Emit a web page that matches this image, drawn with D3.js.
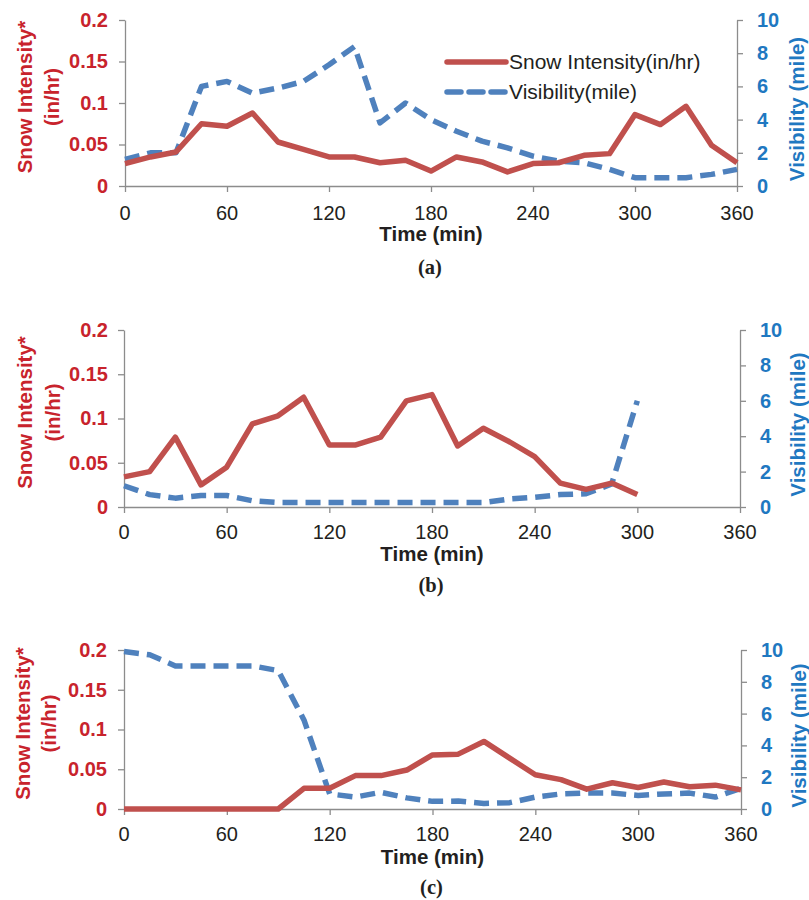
<!DOCTYPE html>
<html>
<head>
<meta charset="utf-8">
<script src="https://cdn.jsdelivr.net/npm/d3@7/dist/d3.min.js"></script>
<style>
  body { margin: 0; background: #fff; }
  svg { display: block; font-family: "Liberation Sans", Arial, sans-serif; }
</style>
</head>
<body>
<svg width="809" height="900"></svg>
<script>
// time in minutes, every 15 min
var times = d3.range(0, 361, 15);
var timesB = d3.range(0, 301, 15);
var xTicks = [0, 60, 120, 180, 240, 300, 360];
var snowTicks = [0, 0.05, 0.1, 0.15, 0.2];
var snowTickLabels = ["0", "0.05", "0.1", "0.15", "0.2"];
var visTicks = [0, 2, 4, 6, 8, 10];

var snowA = [0.027, 0.035, 0.041, 0.075, 0.072, 0.088, 0.053, 0.044, 0.035, 0.035, 0.028, 0.031, 0.018,
             0.035, 0.029, 0.017, 0.027, 0.028, 0.037, 0.039, 0.086, 0.074, 0.096, 0.049, 0.028];
var visA = [1.6, 2.0, 2.0, 6.0, 6.3, 5.6, 5.9, 6.3, 7.3, 8.4, 3.8, 5.0, 4.0,
            3.3, 2.7, 2.3, 1.8, 1.5, 1.4, 1.0, 0.5, 0.5, 0.5, 0.7, 1.0];

var snowB = [0.034, 0.040, 0.079, 0.025, 0.045, 0.094, 0.103, 0.124, 0.070, 0.070, 0.079, 0.120, 0.127,
             0.069, 0.089, 0.074, 0.057, 0.027, 0.020, 0.027, 0.014];
var visB = [1.2, 0.7, 0.5, 0.65, 0.65, 0.35, 0.25, 0.25, 0.25, 0.25, 0.25, 0.25, 0.25,
            0.25, 0.25, 0.45, 0.55, 0.7, 0.75, 1.3, 6.0];

var snowC = [0, 0, 0, 0, 0, 0, 0, 0.026, 0.026, 0.042, 0.042, 0.049, 0.068,
             0.069, 0.085, 0.064, 0.043, 0.037, 0.025, 0.033, 0.027, 0.034, 0.028, 0.030, 0.024];
var visC = [9.9, 9.7, 9.0, 9.0, 9.0, 9.0, 8.7, 5.6, 0.95, 0.75, 1.05, 0.7, 0.48,
            0.5, 0.35, 0.4, 0.75, 0.95, 1.0, 1.0, 0.85, 0.95, 1.0, 0.75, 1.3];

var legendLabels = ["Snow Intensity(in/hr)", "Visibility(mile)"];

var RED = "#c0504d", BLUE = "#4f81bd", RED_TXT = "#c8232c", BLUE_TXT = "#1f78c1", AXIS = "#8c8c8c";

var svg = d3.select("svg");

var panels = [
  {t: times, snow: snowA, vis: visA, tag: "(a)", top: 20, bottom: 186, left: 125, right: 737,
   tickY: 220, titleY: 241, tagY: 274, l1: 25, l2: 52, rx: 797, rl: 757, lend: 108, legend: true},
  {t: timesB, snow: snowB, vis: visB, tag: "(b)", top: 330, bottom: 507, left: 124, right: 740,
   tickY: 539, titleY: 561, tagY: 592, l1: 25, l2: 53, rx: 798, rl: 760, lend: 108},
  {t: times, snow: snowC, vis: visC, tag: "(c)", top: 650, bottom: 809, left: 124, right: 741,
   tickY: 841, titleY: 864, tagY: 894, l1: 23, l2: 49, rx: 799, rl: 761, lend: 107}
];

var FS = 20, FT = 20.5;

panels.forEach(function(p) {
  var x = d3.scaleLinear().domain([0, 360]).range([p.left, p.right]);
  var yL = d3.scaleLinear().domain([0, 0.2]).range([p.bottom, p.top]);
  var yR = d3.scaleLinear().domain([0, 10]).range([p.bottom, p.top]);
  var g = svg.append("g");

  // axes
  var ax = g.append("g").attr("transform", "translate(0," + p.bottom + ")")
    .call(d3.axisBottom(x).tickValues(xTicks).tickSize(6).tickSizeOuter(0));
  ax.selectAll("text").remove();
  g.selectAll(".xl").data(xTicks).enter().append("text")
    .attr("x", function(d) { return x(d); }).attr("y", p.tickY)
    .attr("text-anchor", "middle").attr("font-size", FS).attr("fill", "#231f20")
    .text(function(d) { return d; });

  var al = g.append("g").attr("transform", "translate(" + p.left + ",0)")
    .call(d3.axisLeft(yL).tickValues(snowTicks).tickSize(6).tickSizeOuter(0)
      .tickFormat(function(d, i) { return snowTickLabels[i]; }));
  al.selectAll("text").attr("x", p.lend - p.left)
    .attr("font-size", FS).attr("font-weight", "bold").attr("fill", RED_TXT)
    .attr("font-family", "Liberation Sans, Arial, sans-serif");

  var ar = g.append("g").attr("transform", "translate(" + p.right + ",0)")
    .call(d3.axisRight(yR).tickValues(visTicks).tickSize(6).tickSizeOuter(0));
  ar.selectAll("text").attr("x", p.rl - p.right)
    .attr("font-size", FS).attr("font-weight", "bold").attr("fill", BLUE_TXT)
    .attr("font-family", "Liberation Sans, Arial, sans-serif");

  g.selectAll(".domain, .tick line").attr("stroke", AXIS).attr("stroke-width", 1.3);

  // axis titles
  var mid = (p.top + p.bottom) / 2 - 6;
  [["Snow Intensity*", p.l1], ["(in/hr)", p.l2]].forEach(function(t) {
    g.append("text").attr("transform", "translate(" + t[1] + "," + mid + ") rotate(-90)")
      .attr("dy", "0.35em").attr("text-anchor", "middle")
      .attr("font-size", FT).attr("font-weight", "bold").attr("fill", RED_TXT).text(t[0]);
  });
  g.append("text").attr("transform", "translate(" + p.rx + "," + ((p.top + p.bottom) / 2 + 6) + ") rotate(-90)")
    .attr("dy", "0.35em").attr("text-anchor", "middle")
    .attr("font-size", FT).attr("font-weight", "bold").attr("fill", BLUE_TXT).text("Visibility (mile)");

  g.append("text").attr("x", (p.left + p.right) / 2).attr("y", p.titleY)
    .attr("text-anchor", "middle").attr("font-size", FT).attr("font-weight", "bold")
    .attr("fill", "#231f20").text("Time (min)");
  g.append("text").attr("x", (p.left + p.right) / 2 - 1).attr("y", p.tagY)
    .attr("text-anchor", "middle").attr("font-size", 20.5).attr("font-weight", "bold")
    .attr("font-family", "Liberation Serif, Times New Roman, serif").attr("fill", "#231f20").text(p.tag);

  // lines
  var visLine = d3.line().x(function(d, i) { return x(p.t[i]); }).y(function(d) { return yR(d); });
  var snowLine = d3.line().x(function(d, i) { return x(p.t[i]); }).y(function(d) { return yL(d); });

  g.append("path").datum(p.vis).attr("d", visLine).attr("fill", "none")
    .attr("stroke", BLUE).attr("stroke-width", 5.5).attr("stroke-dasharray", "15,8")
    .attr("stroke-linejoin", "round");
  g.append("path").datum(p.snow).attr("d", snowLine).attr("fill", "none")
    .attr("stroke", RED).attr("stroke-width", 5.5).attr("stroke-linejoin", "round");

  if (p.legend) {
    var lg = g.append("g");
    lg.append("line").attr("x1", 447).attr("x2", 506).attr("y1", 62).attr("y2", 62)
      .attr("stroke", RED).attr("stroke-width", 5.5).attr("stroke-linecap", "round");
    lg.append("line").attr("x1", 447).attr("x2", 506).attr("y1", 92).attr("y2", 92)
      .attr("stroke", BLUE).attr("stroke-width", 5.5).attr("stroke-dasharray", "14,8")
      .attr("stroke-linecap", "round");
    lg.selectAll("text").data(legendLabels).enter().append("text")
      .attr("x", 509).attr("y", function(d, i) { return 62 + i * 30; }).attr("dy", "0.35em")
      .attr("font-size", 21).attr("fill", "#231f20").text(function(d) { return d; });
  }
});
</script>
</body>
</html>
